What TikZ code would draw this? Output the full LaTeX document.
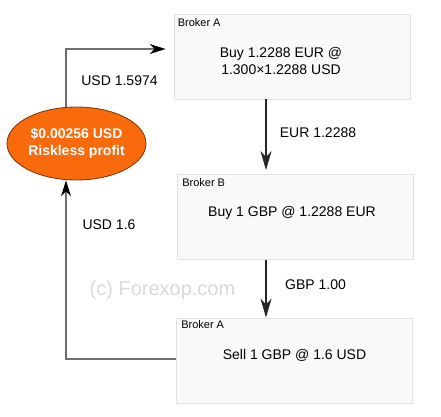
\documentclass[tikz,border=0pt]{standalone}
\usepackage{fontspec}
\setmainfont{Liberation Sans}
\usetikzlibrary{arrows.meta,shapes.geometric,calc}
\definecolor{boxfill}{HTML}{F9F9F9}
\definecolor{boxline}{HTML}{E2E2E2}
\definecolor{loopline}{HTML}{6E6E6E}
\definecolor{profitfill}{HTML}{F96A0C}
\definecolor{profitline}{HTML}{7A3308}
\definecolor{wm}{HTML}{DADADA}
\begin{document}
\begin{tikzpicture}[x=1pt,y=-1pt,
  brokerbox/.style={draw=boxline,fill=boxfill,line width=0.8pt,minimum width=236pt,minimum height=85pt,inner sep=0pt},
  maintext/.style={font=\fontsize{14}{17.5}\selectfont,align=center,inner sep=0pt},
  smalltext/.style={font=\fontsize{11}{13}\selectfont,anchor=north west,inner sep=0pt},
  flowlabel/.style={font=\fontsize{14}{17}\selectfont,inner sep=0pt},
  flowarrow/.style={draw=black!85,line width=1.8pt,-{Stealth[length=19pt,width=11pt,inset=6pt]}},
  looparrow/.style={draw=loopline,line width=1.5pt,-{Stealth[length=16pt,width=10pt,inset=5pt,color=black]}},
  loopline/.style={draw=loopline,line width=1.5pt}]
\useasboundingbox (0,0) rectangle (441,416);
\fill[white] (0,0) rectangle (441,416);

% boxes
\node[brokerbox] (b1) at (292,56.5) {};
\node[brokerbox] (b2) at (295.5,217) {};
\node[brokerbox] (b3) at (294.5,360.5) {};

\node[smalltext] (b1h) at ($(b1.north west)+(4,5)$) {Broker A};
\node[smalltext] (b2h) at ($(b2.north west)+(5,4)$) {Broker B};
\node[smalltext] (b3h) at ($(b3.north west)+(5,3)$) {Broker A};

\node[maintext] (b1t) at (281,61) {Buy 1.2288 EUR @\\1.300\texttimes 1.2288 USD};
\node[maintext] (b2t) at (292,213) {Buy 1 GBP @ 1.2288 EUR};
\node[maintext] (b3t) at (294.5,355) {Sell 1 GBP @ 1.6 USD};

% profit ellipse
\node[ellipse,draw=profitline,fill=profitfill,line width=0.8pt,minimum width=139pt,minimum height=73pt,inner sep=0pt,
  text=white,font=\bfseries\fontsize{14}{17.5}\selectfont,align=center] (p) at (76.5,143.5) {\$0.00256 USD\\Riskless profit};

% watermark
\node[font=\fontsize{20}{24}\selectfont,text=wm,inner sep=0pt] (wmk) at (162.5,290) {(c) Forexop.com};

% coordinates
\coordinate (ax) at (266,0);
\coordinate (lx) at (66,0);
\coordinate (ty) at (0,49);
\coordinate (by) at (0,359);

% vertical arrows
\draw[flowarrow,shorten >=4pt] (b1.south -| ax) -- (b2.north -| ax);
\draw[flowarrow] (b2.south -| ax) -- (b3.north -| ax);

% loop
\draw[looparrow,shorten >=8pt] (p.north -| lx) -- (lx |- ty) -- (b1.west |- ty);
\draw[looparrow] (b3.west |- by) -- (lx |- by) -- (p.south -| lx);

% labels
\node[flowlabel] (l1) at (119.5,81) {USD 1.5974};
\node[flowlabel] (l2) at (318,133) {EUR 1.2288};
\node[flowlabel] (l3) at (109,225) {USD 1.6};
\node[flowlabel] (l4) at (315.5,285) {GBP 1.00};
\end{tikzpicture}
\end{document}
